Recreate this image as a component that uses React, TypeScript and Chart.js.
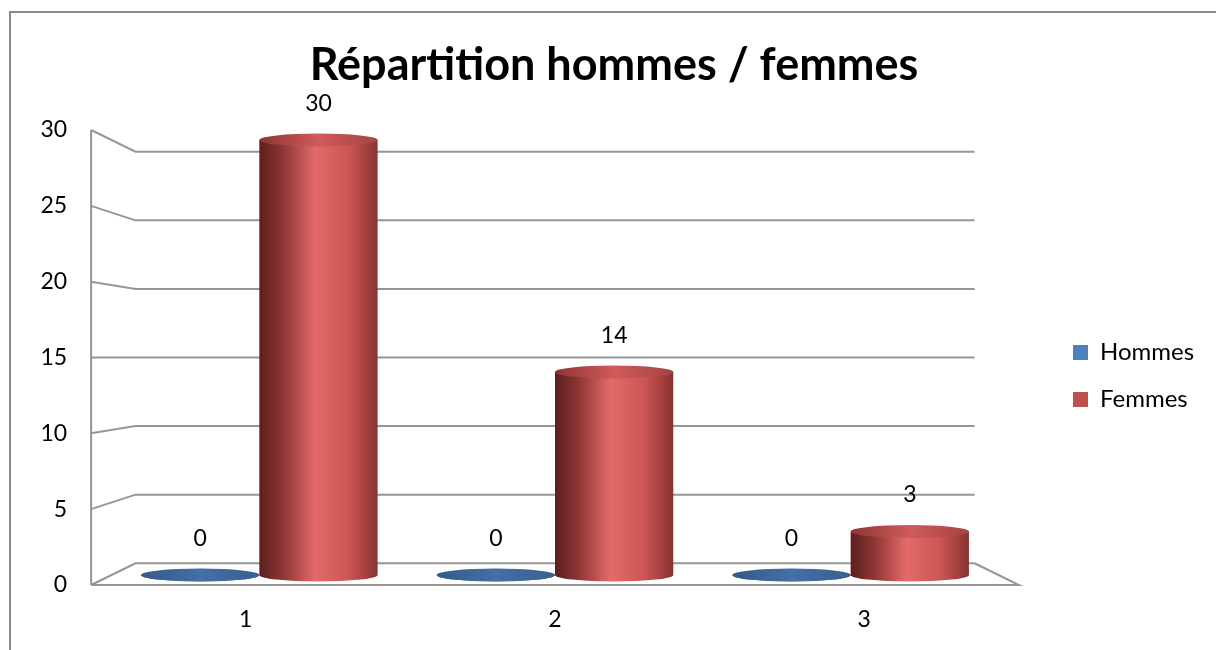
import React, { useEffect, useRef } from "react";
import { Chart, registerables } from "chart.js";

Chart.register(...registerables);

// ---- data ----
const categories = ["1", "2", "3"];
const seriesNames = ["Hommes", "Femmes"];
const hommes = [0, 0, 0];
const femmes = [30, 14, 3];
const yTicks = [0, 5, 10, 15, 20, 25, 30];
const chartTitle = "Répartition hommes / femmes";

// ---- styling / layout constants ----
const FONT = "Lato, 'Open Sans', sans-serif";
const SERIES_COLORS = ["#4F81BD", "#C0504D"];
const CYL_GRADIENTS = [
  { body: ["#23416a", "#3d669a", "#6f9bd3", "#4f7fb8", "#2c4c78"], top: ["#345a88", "#4470a5", "#385f90"] },
  { body: ["#5c1f1f", "#8e3535", "#e36a69", "#cc5755", "#8a3131"], top: ["#8c3434", "#cf5b5a", "#a54343"] },
];
const K_BACK = 0.946;
const K_FRONT = 1.046;
const RY = 6.5;
const AREA = { left: 111.5, right: 998.5, top: 140, bottom: 575 };
const LEGEND_MARK_X = 1073;

function drawCylinder(ctx: CanvasRenderingContext2D, x: number, w: number, top: number, base: number, g: any) {
  const l = x - w / 2;
  const r = x + w / 2;
  const rx = w / 2;
  const body = ctx.createLinearGradient(l, 0, r, 0);
  const stops = [0, 0.2, 0.47, 0.75, 1];
  g.body.forEach((c: string, i: number) => body.addColorStop(stops[i], c));
  ctx.beginPath();
  ctx.moveTo(l, top);
  ctx.lineTo(l, base);
  ctx.ellipse(x, base, rx, RY, 0, Math.PI, 0, true);
  ctx.lineTo(r, top);
  ctx.closePath();
  ctx.fillStyle = body;
  ctx.fill();
  const cap = ctx.createLinearGradient(l, 0, r, 0);
  cap.addColorStop(0, g.top[0]);
  cap.addColorStop(0.5, g.top[1]);
  cap.addColorStop(1, g.top[2]);
  ctx.beginPath();
  ctx.ellipse(x, top, rx, RY, 0, 0, Math.PI * 2);
  ctx.fillStyle = cap;
  ctx.fill();
}

const excel3d = {
  id: "excel3d",
  beforeDatasetsDraw(chart: any) {
    const { ctx, chartArea: ca } = chart;
    const ys = chart.scales.y;
    const xs = chart.scales.x;
    const cx = (ca.left + ca.right) / 2;
    const cy = (ca.top + ca.bottom) / 2;
    const px = (x: number, k: number) => cx + (x - cx) * k;
    const py = (y: number, k: number) => cy + (y - cy) * k;
    const yb = (v: number) => py(ys.getPixelForValue(v), K_BACK);
    const yf = (v: number) => py(ys.getPixelForValue(v), K_FRONT);
    const bl = px(ca.left, K_BACK);
    const br = px(ca.right, K_BACK);
    const fl = px(ca.left, K_FRONT);
    const fr = px(ca.right, K_FRONT);
    ctx.save();
    // outer frame
    ctx.strokeStyle = "#8a8a8a";
    ctx.lineWidth = 2;
    ctx.beginPath();
    ctx.moveTo(10, chart.height + 2);
    ctx.lineTo(10, 12);
    ctx.lineTo(chart.width + 2, 12);
    ctx.stroke();
    // walls & grid
    ctx.strokeStyle = "#969696";
    ctx.lineWidth = 2;
    ctx.beginPath();
    for (const v of yTicks) {
      ctx.moveTo(fl, yf(v));
      ctx.lineTo(bl, yb(v));
      ctx.lineTo(br, yb(v));
    }
    ctx.moveTo(fl, yf(ys.min));
    ctx.lineTo(fl, yf(ys.max));
    ctx.moveTo(fl, yf(ys.min));
    ctx.lineTo(fr, yf(ys.min));
    ctx.lineTo(br, yb(ys.min));
    ctx.stroke();
    // axis labels
    ctx.fillStyle = "#000";
    ctx.font = `23px ${FONT}`;
    ctx.textAlign = "right";
    ctx.textBaseline = "middle";
    for (const v of yTicks) ctx.fillText(String(v), fl - 24, yf(v));
    ctx.textAlign = "center";
    categories.forEach((c, i) => {
      ctx.fillText(c, px(xs.getPixelForValue(i), K_FRONT), yf(ys.min) + 35);
    });
    ctx.restore();
  },
  beforeDatasetDraw() {
    return false;
  },
  afterDatasetsDraw(chart: any) {
    const ctx: CanvasRenderingContext2D = chart.ctx;
    ctx.save();
    chart.data.datasets.forEach((ds: any, d: number) => {
      const meta = chart.getDatasetMeta(d);
      meta.data.forEach((bar: any) => {
        const p = bar.getProps(["x", "y", "base", "width"], true);
        drawCylinder(ctx, p.x, p.width, p.y, p.base, CYL_GRADIENTS[d]);
      });
    });
    ctx.fillStyle = "#000";
    ctx.font = `23px ${FONT}`;
    ctx.textAlign = "center";
    ctx.textBaseline = "middle";
    chart.data.datasets.forEach((ds: any, d: number) => {
      const meta = chart.getDatasetMeta(d);
      meta.data.forEach((bar: any, i: number) => {
        const p = bar.getProps(["x", "y"], true);
        ctx.fillText(String(ds.data[i]), p.x, p.y - RY - 30);
      });
    });
    ctx.restore();
  },
};

export default function App() {
  const ref = useRef<HTMLCanvasElement>(null);
  useEffect(() => {
    const canvas = ref.current;
    if (!canvas) return;
    const W = 1216;
    const H = 650;
    const m = document.createElement("canvas").getContext("2d")!;
    m.font = `24px ${FONT}`;
    const textW = Math.max(...seriesNames.map((n) => m.measureText(n).width));
    const legPad = 23;
    const boxW = 15;
    const legendWidth = legPad + boxW + 12 + textW + 10;
    const legendLeft = LEGEND_MARK_X - legPad;
    const padR = Math.max(0, W - legendLeft - legendWidth);
    const padL = Math.max(0, 12 + padR);
    const titleSize = 45;
    const titleLH = titleSize * 1.2;
    const titlePT = 65 - titleLH / 2;
    const titlePB = AREA.top - titlePT - titleLH;

    const chart = new Chart(canvas, {
      type: "bar",
      data: {
        labels: categories,
        datasets: [
          { label: seriesNames[0], data: hommes, backgroundColor: SERIES_COLORS[0], borderWidth: 0 },
          { label: seriesNames[1], data: femmes, backgroundColor: SERIES_COLORS[1], borderWidth: 0 },
        ],
      },
      options: {
        responsive: false,
        animation: false,
        events: [],
        layout: { padding: { left: padL, right: padR, top: 0, bottom: H - AREA.bottom } },
        font: { family: FONT },
        datasets: { bar: { categoryPercentage: 0.8, barPercentage: 1 } },
        scales: {
          x: { display: false },
          y: {
            min: yTicks[0],
            max: yTicks[yTicks.length - 1],
            ticks: { display: false, stepSize: 5 },
            grid: { display: false },
            border: { display: false },
            afterFit: (s: any) => {
              s.width = AREA.left - padL;
            },
          },
          yR: {
            type: "linear",
            position: "right",
            display: true,
            ticks: { display: false },
            grid: { display: false },
            border: { display: false },
            afterFit: (s: any) => {
              s.width = legendLeft - AREA.right;
            },
          },
        },
        plugins: {
          tooltip: { enabled: false },
          title: {
            display: true,
            text: chartTitle,
            color: "#000",
            font: { family: FONT, size: titleSize, weight: "bold", lineHeight: 1.2 },
            padding: { top: titlePT, bottom: titlePB },
          },
          legend: {
            display: true,
            position: "right",
            fullSize: false,
            align: "center",
            title: { display: true, text: " ", font: { size: 12, lineHeight: 1.2 }, padding: { top: 0, bottom: 22.6 } },
            labels: {
              color: "#000",
              font: { family: FONT, size: 24 },
              boxWidth: boxW,
              boxHeight: boxW,
              padding: legPad,
            },
          },
        },
      } as any,
      plugins: [excel3d],
    });
    return () => chart.destroy();
  }, []);
  return (
    <div style={{ position: "fixed", left: 0, top: 0, width: 1216, height: 650, background: "#fff" }}>
      <canvas ref={ref} width={1216} height={650} style={{ display: "block", width: 1216, height: 650 }} />
    </div>
  );
}
